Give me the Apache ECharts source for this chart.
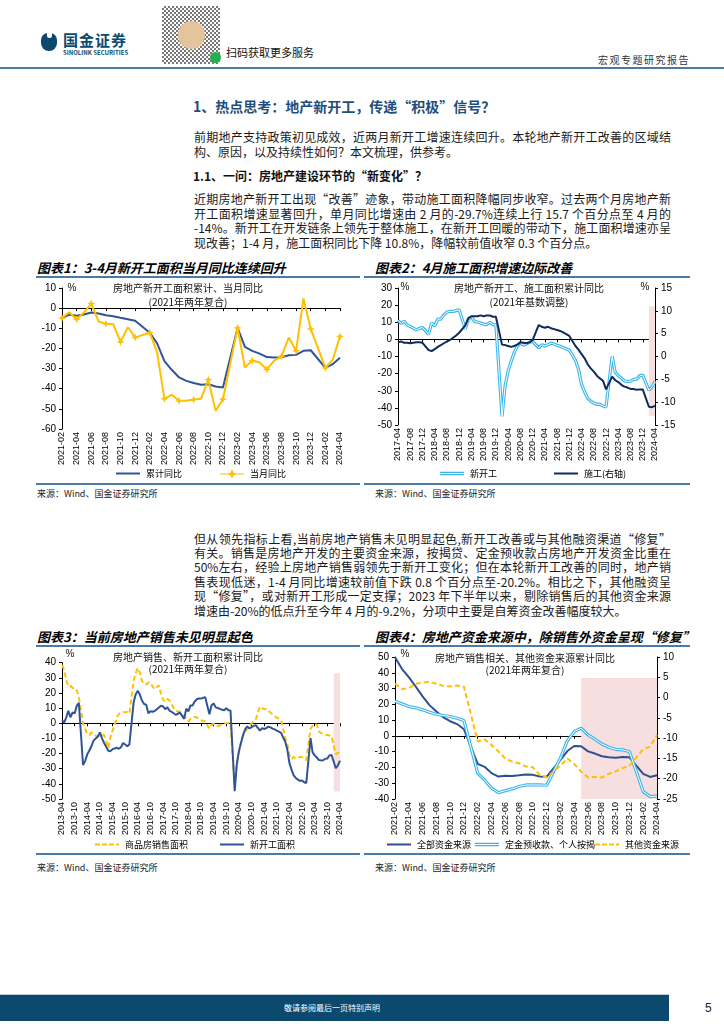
<!DOCTYPE html>
<html><head><meta charset="utf-8"><title>chart</title>
<script src="https://cdn.jsdelivr.net/npm/echarts@6.0.0/dist/echarts.min.js"></script>
<style>
html,body{margin:0;padding:0;background:#fff}
body{width:724px;height:1024px;position:relative;overflow:hidden;font-family:"Noto Sans CJK SC","Liberation Sans",sans-serif;color:#1a1a1a}
.a{position:absolute;white-space:nowrap}
.ln{position:absolute;left:194px;width:477px;font-size:12px;line-height:14px;height:14px;white-space:nowrap;text-align:justify;text-align-last:justify;color:#1a1a1a}
.ln.last{text-align:left;text-align-last:left}
.ct{position:absolute;font-size:13px;font-weight:bold;font-style:italic;line-height:16px;white-space:nowrap;color:#000}
.hr{position:absolute;height:2px;background:#4a7aa6}
.src{position:absolute;font-size:9px;line-height:12px;color:#222;white-space:nowrap}
.ch{position:absolute}
</style></head><body>

<!-- header -->
<div class="a" style="left:41px;top:33px;width:16px;height:18px;background:#0b4a6e;border-radius:7px 7px 8px 8px"></div>
<div class="a" style="left:47px;top:33px;width:5px;height:5px;background:#fff;border-radius:0 0 3px 3px"></div>
<div class="a" style="left:63px;top:31px;font-size:15px;line-height:18px;font-weight:bold;color:#0b4a6e;letter-spacing:1px">国金证券</div>
<div class="a" style="left:63px;top:49px;font-size:6px;line-height:7px;font-weight:bold;color:#0b4a6e">SINOLINK SECURITIES</div>
<div class="a" style="left:162px;top:6px;width:58px;height:58px;background:repeating-conic-gradient(#555 0 25%,#fff 0 50%) 0 0/4px 4px;opacity:.8"></div>
<div class="a" style="left:178px;top:21px;width:27px;height:28px;border-radius:50%;background:#e3c49c"></div>
<div class="a" style="left:210px;top:52px;width:11px;height:11px;border-radius:50%;background:#23b14d"></div>
<div class="a" style="left:226px;top:45px;font-size:11px;line-height:14px;color:#111">扫码获取更多服务</div>
<div class="a" style="left:598px;top:53px;font-size:10px;line-height:13px;color:#333;letter-spacing:1.5px">宏观专题研究报告</div>
<div class="a" style="left:0;top:67px;width:724px;height:2px;background:#4a7aa6"></div>

<!-- section text -->
<div class="a" style="left:193px;top:97px;font-size:14px;line-height:18px;font-weight:bold;color:#1f4e79">1、热点思考：地产新开工，传递“积极”信号？</div>
<div class="ln" style="top:130px"><span>前期地产支持政策初见成效，近两月新开工增速连续回升。本轮地产新开工改善的区域结</span></div>
<div class="ln last" style="top:145px"><span>构、原因，以及持续性如何？本文梳理，供参考。</span></div>
<div class="a" style="left:193px;top:168px;font-size:12px;line-height:16px;font-weight:bold;color:#111">1.1、一问：房地产建设环节的“新变化”？</div>
<div class="ln" style="top:192px"><span>近期房地产新开工出现“改善”迹象，带动施工面积降幅同步收窄。过去两个月房地产新</span></div>
<div class="ln" style="top:206.5px"><span>开工面积增速显著回升，单月同比增速由 2 月的-29.7%连续上行 15.7 个百分点至 4 月的</span></div>
<div class="ln" style="top:221px"><span>-14%。新开工在开发链条上领先于整体施工，在新开工回暖的带动下，施工面积增速亦呈</span></div>
<div class="ln last" style="top:235.5px"><span>现改善；1-4 月，施工面积同比下降 10.8%，降幅较前值收窄 0.3 个百分点。</span></div>

<div class="ln" style="top:531.5px"><span>但从领先指标上看,当前房地产销售未见明显起色,新开工改善或与其他融资渠道“修复”</span></div>
<div class="ln" style="top:545.9px"><span>有关。销售是房地产开发的主要资金来源，按揭贷、定金预收款占房地产开发资金比重在</span></div>
<div class="ln" style="top:560.3px"><span>50%左右，经验上房地产销售弱领先于新开工变化；但在本轮新开工改善的同时，地产销</span></div>
<div class="ln" style="top:574.7px"><span>售表现低迷，1-4 月同比增速较前值下跌 0.8 个百分点至-20.2%。相比之下，其他融资呈</span></div>
<div class="ln" style="top:589.1px"><span>现“修复”，或对新开工形成一定支撑；2023 年下半年以来，剔除销售后的其他资金来源</span></div>
<div class="ln last" style="top:603.5px"><span>增速由-20%的低点升至今年 4 月的-9.2%，分项中主要是自筹资金改善幅度较大。</span></div>

<!-- chart frames -->
<div class="ct" style="left:37px;top:260px">图表1：3-4月新开工面积当月同比连续回升</div>
<div class="ct" style="left:375px;top:260px">图表2：4月施工面积增速边际改善</div>
<div class="hr" style="left:36px;top:276px;width:324px"></div>
<div class="hr" style="left:364px;top:276px;width:326px"></div>
<div class="hr" style="left:36px;top:483px;width:324px"></div>
<div class="hr" style="left:364px;top:483px;width:326px"></div>
<div class="src" style="left:37px;top:488px">来源：Wind、国金证券研究所</div>
<div class="src" style="left:375px;top:488px">来源：Wind、国金证券研究所</div>

<div class="ct" style="left:37px;top:629px">图表3：当前房地产销售未见明显起色</div>
<div class="ct" style="left:375px;top:629px">图表4：房地产资金来源中，除销售外资金呈现“修复”</div>
<div class="hr" style="left:36px;top:645px;width:324px"></div>
<div class="hr" style="left:364px;top:645px;width:326px"></div>
<div class="hr" style="left:36px;top:853px;width:324px"></div>
<div class="hr" style="left:364px;top:853px;width:326px"></div>
<div class="src" style="left:37px;top:862px">来源：Wind、国金证券研究所</div>
<div class="src" style="left:375px;top:862px">来源：Wind、国金证券研究所</div>

<div id="c1" class="ch" style="left:36px;top:278px;width:322px;height:204px"></div>
<div id="c2" class="ch" style="left:366px;top:278px;width:324px;height:204px"></div>
<div id="c3" class="ch" style="left:36px;top:648px;width:322px;height:205px"></div>
<div id="c4" class="ch" style="left:366px;top:648px;width:324px;height:205px"></div>

<!-- footer -->
<div class="a" style="left:0;top:995px;width:669px;height:26px;background:#0b4a6e"></div>
<div class="a" style="left:0;top:994px;width:669px;height:1px;background:#b9c9d6"></div>
<div class="a" style="left:282px;top:1002px;font-size:8px;line-height:12px;color:#fff;width:100px;text-align:center">敬请参阅最后一页特别声明</div>
<div class="a" style="left:705px;top:1000px;font-size:12px;line-height:16px;color:#222;font-family:'Liberation Sans'">5</div>

<script>
// ---------------- data ----------------
function months(from, to){
  const out=[]; let y=+from.slice(0,4), m=+from.slice(5,7);
  const y1=+to.slice(0,4), m1=+to.slice(5,7);
  while(y<y1||(y===y1&&m<=m1)){ out.push(y+'-'+(m<10?'0':'')+m); m++; if(m>12){m=1;y++;} }
  return out;
}
// 2013-04 .. 2024-04 (2021 two-year compound)
const catsLong = months('2013-04','2024-04');
const newStartCum = [
  2.0, 0.5, 3.8, 8.2, 4.0, 7.1, 6.5, 11.5, 13.5,
  null, -27.6, -24.8, -20.5, -18.0, -15.0, -11.5, -10.0, -8.8, -6.0, -10.0, -13.0,
  null, -18.2, -18.4, -17.1, -16.6, -16.2, -16.8, -15.8, -13.0, -14.0, -15.2, -14.0,
  null, 13.7, 19.2, 21.4, 18.8, 14.9, 12.7, 12.2, 6.6, 7.9, 7.6, 8.1,
  null, 10.4, 11.6, 11.1, 9.3, 10.6, 8.4, 7.6, 6.6, 5.6, 6.3, 7.0,
  null, 2.9, 9.7, 7.8, 11.8, 11.8, 14.4, 15.9, 16.4, 16.3, 16.8, 17.2,
  null, 6.0, 11.9, 13.1, 10.5, 10.1, 9.5, 8.9, 8.6, 10.0, 8.6, 8.5,
  null, -44.9, -27.2, -18.4, -12.8, -7.6, -3.9, -2.1, -3.4, -2.6, -1.7, -1.2,
  null, -4.9, -3.2, -3.8, -3.2, -2.2, -2.7, -3.5, -4.0, -4.8, -5.5, -6.3,
  null, -12.2, -17.5, -26.3, -30.6, -34.4, -36.1, -37.2, -38.0, -37.8, -38.9, -39.4,
  null, -9.8, -19.2, -21.2, -22.6, -24.3, -24.5, -24.4, -23.4, -23.2, -21.2, -20.9,
  null, -29.7, -27.8, -24.6
];
const salesCum = [
  38.5, 35.6, 28.7, 24.4, 24.8, 23.3, 23.2, 21.8, 17.3,
  null, -0.1, -3.8, -6.8, -7.8, -6.0, -6.7, -8.3, -8.6, -8.4, -8.2, -7.6,
  null, -16.3, -9.2, -4.8, -1.4, 3.9, 6.1, 7.2, 7.5, 7.2, 7.4, 6.5,
  null, 28.2, 33.1, 36.5, 33.2, 27.9, 26.4, 25.5, 26.9, 26.8, 24.3, 22.5,
  null, 25.1, 19.5, 15.7, 14.3, 16.1, 15.0, 12.7, 10.3, 8.2, 7.9, 7.7,
  null, 4.1, 3.6, 1.3, 2.9, 3.3, 4.2, 4.0, 2.9, 2.2, 1.4, 1.3,
  null, -3.6, -0.9, -0.3, -1.6, -1.8, -1.3, -0.6, -0.1, 0.1, 0.2, -0.1,
  null, -39.9, -26.3, -19.3, -12.3, -8.4, -5.8, -3.3, -1.8, 0.0, 1.3, 2.6,
  null, 11.0, 9.9, 9.3, 9.3, 8.2, 7.0, 5.9, 4.5, 3.8, 3.0, 2.2,
  null, -9.6, -13.8, -20.9, -23.6, -22.2, -23.1, -23.0, -22.2, -22.3, -23.3, -24.3,
  null, -3.6, -1.8, -0.4, -0.9, -5.3, -6.5, -7.1, -7.5, -7.8, -8.0, -8.5,
  null, -20.5, -19.4, -20.2
];
// chart 2: 2017-04 .. 2024-04, construction area (right axis)
const cats2 = months('2017-04','2024-04');
const constrCum = [
  3.1, 3.3, 3.0, 3.0, 2.9, 3.0, 3.1, 3.1, 3.0,
  null, 1.4, 1.2, 1.6, 2.1, 2.5, 2.9, 3.3, 3.6, 4.1, 4.6, 5.2,
  null, 6.8, 8.4, 8.8, 8.8, 8.8, 9.0, 8.8, 9.0, 9.0, 8.7, 8.7,
  null, 2.6, 2.5, 2.3, 2.1, 2.3, 2.6, 3.1, 3.0, 2.9, 3.1, 3.6,
  null, 6.9, 6.5, 6.3, 6.5, 6.2, 6.0, 5.8, 5.6, 5.3, 4.9, 4.5,
  null, 2.3, 1.5, 0.5, -0.4, -1.7, -2.6, -3.3, -4.2, -4.8, -5.3, -7.2,
  null, -4.4, -5.2, -5.6, -6.2, -6.6, -6.8, -7.1, -7.1, -7.3, -7.2, -7.2,
  null, -11.0, -11.1, -10.8
];
// chart 1: 2021-02 .. 2024-04 monthly yoy of new starts
const cats1 = months('2021-02','2024-04');
const newStartMonthly = [
  -4.9, -2.0, -5.5, -2.2, 2.3, -6.6, -7.7, -7.9, -16.8, -9.5, -14.5,
  null, -12.2, -22.0, -45.0, -43.0, -46.0, -46.0, -45.4, -45.0, -35.5, -51.0, -45.2,
  null, -9.8, -29.5, -26.0, -27.0, -30.4, -26.0, -23.9, -14.6, -21.2, 4.9, -10.3,
  null, -29.7, -25.6, -14.0
];
// chart 4: 2021-02 .. 2024-04 funding sources
const cats4 = months('2021-02','2024-04');
const fundTotal = [
  49.9, 42.5, 37.2, 31.3, 25.0, 19.5, 15.4, 11.8, 9.3, 7.5, 4.2,
  null, -17.7, -19.6, -23.6, -25.8, -25.3, -25.4, -25.0, -24.5, -24.7, -25.7, -25.9,
  null, -15.2, -9.6, -6.4, -6.6, -9.8, -11.2, -12.9, -13.5, -13.8, -13.4, -13.6,
  null, -24.1, -26.0, -24.9
];
const fundDeposit = [
  22.0, 20.3, 18.6, 17.8, 16.5, 15.0, 13.7, 12.9, 12.3, 11.2, 9.7,
  null, -23.7, -27.9, -33.2, -36.0, -34.7, -33.6, -32.1, -31.1, -31.1, -31.1, -31.3,
  null, -14.0, -3.0, 2.7, 4.9, 0.6, -2.1, -5.1, -7.2, -8.5, -8.9, -9.9,
  null, -35.3, -38.5, -38.1
];
const fundOther = [
  3.4, 2.1, 2.3, 3.4, 3.7, 3.9, 3.4, 2.9, 2.7, 3.0, 2.7,
  null, -10.8, -10.3, -11.7, -13.3, -15.0, -15.8, -16.2, -17.0, -17.2, -19.1, -19.7,
  null, -16.8, -15.0, -16.4, -18.2, -19.7, -19.5, -19.7, -18.8, -18.2, -17.4, -16.8,
  null, -12.7, -12.1, -9.2
];
// shaded windows: [x from, x to, y top, y bottom]
const shade2 = ['2024-02','2024-04', 11, -13];
const shade3 = ['2024-01','2024-04', 33, -45];
const shade4 = ['2023-05','2024-04', 4.8, -25];

// ---------------- helpers ----------------
const FNUM = '"Liberation Sans", Arial, "Noto Sans CJK SC"';
const FCJK = '"Noto Sans CJK SC", "Liberation Sans"';
const from = (arr, cats, start) => arr.slice(cats.indexOf(start));

const ICON_LINE = 'path://M0,0H24V2H0Z';
const ICON_DASH = 'path://M0,0H5V2H0Z M7,0H12V2H7Z M14,0H19V2H14Z M21,0H24V2H21Z';
const ICON_DOUBLE = 'path://M0,0H24V1.2H0Z M0,2.4H24V3.6H0Z';
const ICON_STAR = 'path://M0,4.4H24V5.6H0Z M12,0L13.4,3.6L17,5L13.4,6.4L12,10L10.6,6.4L7,5L10.6,3.6Z';

function xAxes(cats, interval){
  return [
    {type:'category', data:cats, boundaryGap:false, position:'bottom',
     axisLine:{show:false, onZero:false}, axisTick:{show:false}, splitLine:{show:false},
     axisLabel:{show:true, interval:interval, rotate:90, margin:3, fontSize:9, color:'#000', fontFamily:FNUM}},
    {type:'category', data:cats, boundaryGap:false, position:'bottom',
     axisLine:{show:true, onZero:true, onZeroAxisIndex:0, lineStyle:{color:'#000', width:1}},
     axisTick:{show:true, interval:interval, length:3, lineStyle:{color:'#000'}},
     axisLabel:{show:false}, splitLine:{show:false}}
  ];
}
function yAx(min, max, interval, pos){
  return {type:'value', min, max, interval, position:pos,
    axisLine:{show:true, onZero:false, lineStyle:{color:'#000', width:1}},
    axisTick:{show:true, length:3, lineStyle:{color:'#000'}},
    splitLine:{show:false},
    axisLabel:{color:'#000', fontSize:10, margin:6, fontFamily:FNUM}};
}
function line(name, data, color, extra){
  const s = {type:'line', name, data, xAxisIndex:0, yAxisIndex:0, symbol:'none', connectNulls:true,
    lineStyle:{width:2, color, type:'solid'}, itemStyle:{color}, emphasis:{disabled:true}, silent:true, z:3};
  if (extra){ for (const k in extra){ if(k==='lineStyle') Object.assign(s.lineStyle, extra[k]); else s[k]=extra[k]; } }
  return s;
}
function shadeSeries(cats, yIdx, sh){
  return {type:'line', name:'_shade', data:cats.map(()=>null), yAxisIndex:yIdx, xAxisIndex:0, silent:true, z:1,
    symbol:'none', markArea:{silent:true, itemStyle:{color:'#f7dfdf'},
      data:[[{xAxis:sh[0], yAxis:sh[2]},{xAxis:sh[1], yAxis:sh[3]}]]}};
}
function leg(name, left, top, icon){
  return {data:[name], left, top, padding:0, itemWidth:24, itemHeight:10, itemGap:0, selectedMode:false,
    icon: icon, symbolKeepAspect:true, itemStyle:{borderWidth:0},
    textStyle:{fontSize:9, color:'#000', fontFamily:FCJK, padding:[0,0,0,1]}};
}
function txt(text, x, y, size, align, fam){
  return {type:'text', x, y, silent:true, z:10, style:{text, font:size+'px '+(fam||FCJK), fill:'#111',
    textAlign:align||'left', align:align||'left', textVerticalAlign:'middle', verticalAlign:'middle'}};
}
const STAR = 'path://M5,0 L6.4,3.6 L10,5 L6.4,6.4 L5,10 L3.6,6.4 L0,5 L3.6,3.6 Z';
const base = {animation:false, backgroundColor:'transparent'};
function grid(l,t,w,h){ return {left:l, top:t, width:w, height:h, containLabel:false, outerBoundsMode:'none', show:false}; }

// ---------------- chart 1 ----------------
echarts.init(document.getElementById('c1')).setOption(Object.assign({}, base, {
  grid: grid(26, 10, 278, 141),
  xAxis: xAxes(cats1, 1),
  yAxis: [yAx(-60, 10, 10, 'left')],
  legend: [leg('累计同比', 80, 191, ICON_LINE), leg('当月同比', 184, 191, ICON_STAR)],
  series: [
    line('累计同比', from(newStartCum, catsLong, '2021-02'), '#2f5597'),
    line('当月同比', newStartMonthly, '#ffc000', {symbol:STAR, symbolSize:8, showSymbol:true, z:4})
  ],
  graphic: [
    txt('%', 36, 10, 10, 'center', FNUM),
    txt('房地产新开工面积累计、当月同比', 152, 10, 10, 'center'),
    txt('(2021年两年复合)', 152, 24, 10, 'center')
  ]
}));

// ---------------- chart 2 ----------------
const newStart2 = from(newStartCum, catsLong, '2017-04');
echarts.init(document.getElementById('c2')).setOption(Object.assign({}, base, {
  grid: grid(32, 10, 257, 137),
  xAxis: xAxes(cats2, 3),
  yAxis: [yAx(-50, 30, 10, 'left'), yAx(-15, 15, 5, 'right')],
  legend: [leg('新开工', 74, 191, ICON_DOUBLE), leg('施工(右轴)', 188, 191, ICON_LINE)],
  series: [
    shadeSeries(cats2, 1, shade2),
    line('新开工', newStart2, '#3db5ea', {lineStyle:{width:3.2}}),
    line('_nw', newStart2, '#ffffff', {lineStyle:{width:1}}),
    line('施工(右轴)', constrCum, '#102a5c', {yAxisIndex:1, z:4})
  ],
  graphic: [
    txt('%', 39, 9, 10, 'center', FNUM),
    txt('%', 279, 9, 10, 'center', FNUM),
    txt('房地产新开工、施工面积累计同比', 163, 10, 10, 'center'),
    txt('(2021年基数调整)', 163, 24, 10, 'center')
  ]
}));

// ---------------- chart 3 ----------------
echarts.init(document.getElementById('c3')).setOption(Object.assign({}, base, {
  grid: grid(26, 14.7, 278, 136.3),
  xAxis: xAxes(catsLong, 5),
  yAxis: [yAx(-50, 40, 10, 'left')],
  legend: [leg('商品房销售面积', 59, 192, ICON_DASH), leg('新开工面积', 184, 192, ICON_LINE)],
  series: [
    shadeSeries(catsLong, 0, shade3),
    line('商品房销售面积', salesCum, '#ffc000', {lineStyle:{type:[5,3], width:2}}),
    line('新开工面积', newStartCum, '#2f5597', {z:4})
  ],
  graphic: [
    txt('%', 34, 6, 10, 'center', FNUM),
    txt('房地产销售、新开工面积累计同比', 152, 9, 10, 'center'),
    txt('(2021年两年复合)', 152, 21, 10, 'center')
  ]
}));

// ---------------- chart 4 ----------------
echarts.init(document.getElementById('c4')).setOption(Object.assign({}, base, {
  grid: grid(29, 9, 262, 142),
  xAxis: xAxes(cats4, 1),
  yAxis: [yAx(-40, 50, 10, 'left'), yAx(-25, 10, 5, 'right')],
  legend: [leg('全部资金来源', 21, 192, ICON_LINE), leg('定金预收款、个人按揭', 109, 192, ICON_DOUBLE), leg('其他资金来源', 229, 192, ICON_DASH)],
  series: [
    shadeSeries(cats4, 1, shade4),
    line('全部资金来源', fundTotal, '#2e5090'),
    line('定金预收款、个人按揭', fundDeposit, '#3db5ea', {lineStyle:{width:3.2}}),
    line('_fd', fundDeposit, '#ffffff', {lineStyle:{width:1}}),
    line('其他资金来源', fundOther, '#ffc000', {yAxisIndex:1, lineStyle:{type:[5,3], width:2}, z:4})
  ],
  graphic: [
    txt('%', 39, 6, 10, 'center', FNUM),
    txt('房地产销售相关、其他资金来源累计同比', 159, 10, 10, 'center'),
    txt('(2021年两年复合)', 159, 22, 10, 'center')
  ]
}));

// fit justified text lines into their column
document.querySelectorAll('.ln').forEach(el => {
  const sp = el.querySelector('span');
  const w = el.clientWidth, sw = sp.getBoundingClientRect().width;
  if (sw > w) {
    const n = sp.textContent.length;
    el.style.letterSpacing = ((w - sw) / n - 0.05) + 'px';
  }
});
</script>
</body></html>
